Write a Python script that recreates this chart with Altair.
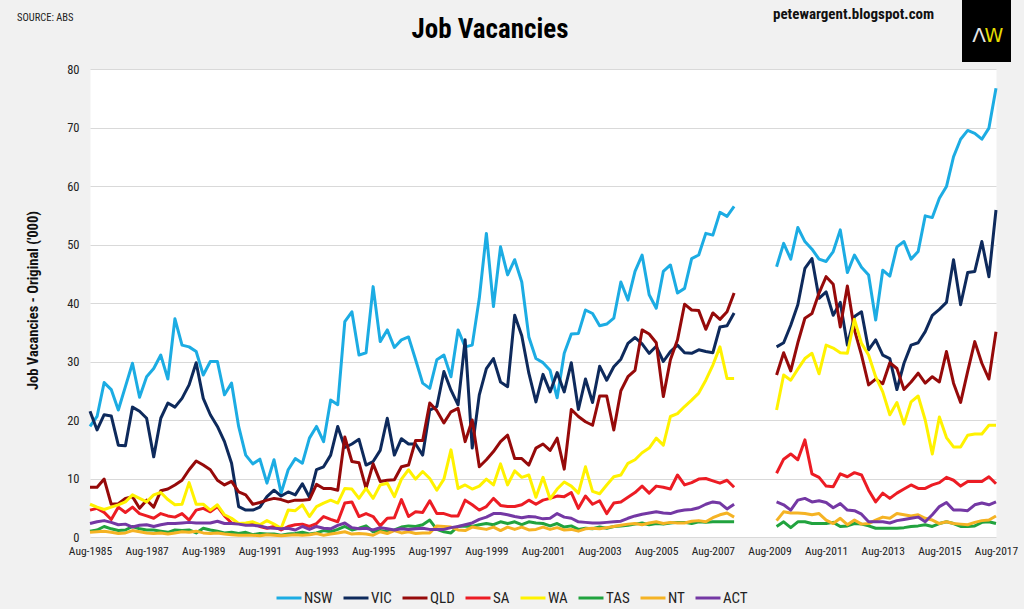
import altair as alt
import pandas as pd

# ---------------- data (ABS job vacancies, '000, quarterly Aug-1985 .. Aug-2017) ----------------
STATES = ["NSW", "VIC", "QLD", "SA", "WA", "TAS", "NT", "ACT"]
COLORS = ["#1CACE3", "#0E2A5C", "#960A0A", "#EC1C24", "#FFF200", "#21A33E", "#F5B324", "#7438A4"]
START_YEAR = 1985
TICK_QUARTERS = list(range(0, 129, 8))
GAP = [None] * 5  # survey suspended Aug-2008 .. Aug-2009

NSW = [18.9, 20.6, 26.4, 25.2, 21.7, 25.7, 29.7, 23.9, 27.4, 28.8,
       31.1, 27.0, 37.3, 32.8, 32.5, 31.7, 27.7, 30.0, 30.0, 24.3,
       26.3, 18.9, 14.0, 12.5, 13.3, 9.2, 13.2, 7.5, 11.5, 13.4,
       12.6, 16.9, 18.9, 16.3, 23.4, 22.6, 36.8, 38.5, 31.1, 31.5,
       42.8, 33.4, 35.4, 32.4, 33.7, 34.2, 30.3, 26.3, 25.4, 30.3,
       31.1, 27.4, 35.4, 32.5, 32.8, 40.8, 51.9, 39.4, 49.6, 44.8,
       47.4, 43.6, 34.2, 30.5, 29.8, 28.5, 23.8, 31.4, 34.7, 34.8,
       38.8, 38.2, 36.1, 36.4, 37.4, 43.6, 40.5, 45.4, 48.2, 41.4,
       39.1, 45.4, 46.5, 41.7, 42.5, 47.6, 48.2, 51.9, 51.6, 55.5,
       54.8, 56.5] + GAP + [
       46.2, 50.2, 47.5, 52.9, 50.5, 49.2, 47.5, 47.1, 48.8, 52.5,
       45.2, 48.2, 46.1, 44.8, 37.1, 45.6, 44.6, 49.6, 50.5, 47.5,
       48.8, 54.9, 54.6, 57.9, 59.9, 65.0, 68.0, 69.5, 69.0, 68.0,
       69.9, 76.7]

VIC = [21.5, 18.3, 20.9, 20.7, 15.7, 15.6, 22.2, 21.5, 20.3, 13.7,
       20.3, 22.9, 22.2, 23.7, 26.0, 29.8, 23.7, 20.9, 18.9, 16.3,
       12.6, 5.2, 4.6, 4.6, 5.1, 6.9, 8.0, 7.0, 7.7, 7.2,
       9.1, 6.8, 11.5, 12.0, 14.0, 18.9, 15.3, 15.9, 16.7, 12.3,
       12.9, 14.8, 20.3, 14.0, 16.8, 15.9, 15.9, 14.0, 21.7, 22.3,
       28.3, 25.1, 22.6, 33.7, 15.2, 24.3, 28.8, 30.5, 26.5, 25.7,
       37.9, 34.4, 28.0, 23.1, 27.8, 24.8, 28.1, 24.8, 29.8, 21.8,
       27.0, 23.0, 29.2, 26.8, 29.1, 30.4, 33.1, 34.1, 33.0, 31.4,
       32.6, 30.0, 31.7, 32.8, 31.5, 31.4, 32.0, 31.7, 31.5, 35.9,
       36.1, 38.3] + GAP + [
       32.5, 33.2, 36.2, 39.7, 45.9, 47.6, 40.8, 41.9, 37.9, 40.1,
       32.8, 37.7, 38.5, 32.0, 33.7, 31.1, 30.5, 25.2, 29.7, 32.8,
       33.2, 35.1, 37.9, 38.9, 40.1, 47.4, 39.7, 45.2, 45.4, 50.5,
       44.5, 55.9]

QLD = [8.5, 8.5, 9.9, 5.6, 5.7, 6.6, 6.9, 4.9, 6.3, 5.1,
       7.9, 8.2, 8.9, 9.7, 11.5, 13.0, 12.3, 11.5, 9.7, 8.9,
       9.5, 7.7, 7.2, 5.6, 5.9, 6.3, 6.6, 6.4, 6.0, 6.3,
       6.3, 6.4, 9.0, 8.3, 8.3, 8.0, 17.1, 12.9, 12.7, 8.3,
       12.5, 9.5, 9.7, 9.8, 12.0, 12.3, 16.5, 16.5, 22.9, 21.6,
       19.5, 21.4, 22.0, 16.3, 20.0, 12.0, 13.2, 14.6, 16.3, 17.4,
       13.4, 13.4, 12.3, 15.2, 15.9, 14.8, 16.9, 11.6, 21.8, 20.6,
       19.7, 19.1, 24.1, 24.1, 18.3, 25.0, 27.4, 28.5, 35.4, 34.7,
       33.2, 24.0, 30.3, 33.7, 39.8, 38.8, 38.7, 35.5, 38.3, 37.2,
       38.5, 41.7] + GAP + [
       27.7, 31.5, 28.4, 33.2, 37.4, 38.2, 41.7, 44.5, 43.2, 35.9,
       42.9, 35.4, 31.1, 26.0, 27.0, 26.2, 29.8, 28.8, 25.2, 26.5,
       28.0, 26.3, 27.4, 26.5, 31.7, 26.3, 23.0, 28.3, 33.4, 29.7,
       27.0, 35.1]

SA = [4.6, 4.9, 4.2, 3.0, 5.1, 4.2, 5.1, 4.0, 3.6, 3.2,
      4.0, 3.6, 3.4, 4.0, 2.9, 4.6, 4.9, 4.3, 5.2, 3.6,
      2.4, 2.3, 2.2, 2.3, 1.8, 1.5, 1.8, 1.2, 1.8, 2.1,
      2.2, 1.8, 2.3, 3.5, 3.0, 2.6, 5.8, 6.0, 3.5, 4.0,
      3.5, 1.9, 3.2, 3.3, 6.4, 3.5, 4.3, 4.2, 6.2, 4.0,
      4.0, 3.6, 3.6, 6.3, 5.5, 4.6, 5.2, 6.6, 5.4, 5.2,
      5.2, 5.5, 6.3, 5.6, 6.3, 6.6, 7.0, 6.9, 7.6, 4.9,
      7.0, 5.6, 6.2, 4.0, 5.8, 6.0, 6.8, 7.6, 8.7, 7.5,
      8.7, 8.5, 8.2, 10.6, 8.9, 9.3, 9.9, 10.0, 9.6, 9.2,
      9.7, 8.5] + GAP + [
      10.9, 13.3, 14.2, 13.2, 16.6, 10.8, 10.2, 8.7, 8.6, 10.8,
      10.3, 11.0, 10.6, 8.0, 6.0, 7.5, 6.6, 7.5, 8.2, 8.9,
      8.3, 8.3, 8.9, 9.3, 10.2, 9.7, 8.7, 9.5, 9.5, 9.5,
      10.3, 9.1]

WA = [5.6, 5.1, 4.7, 5.1, 5.5, 6.0, 7.2, 6.6, 6.0, 7.2,
      7.6, 6.4, 5.5, 5.6, 9.3, 5.6, 5.6, 4.6, 5.5, 3.8,
      3.2, 2.3, 2.4, 2.6, 2.1, 2.8, 2.2, 1.5, 4.6, 4.5,
      5.5, 3.5, 5.2, 5.8, 6.3, 5.8, 8.3, 8.2, 6.6, 8.3,
      6.6, 8.9, 9.2, 6.9, 9.9, 11.5, 9.9, 11.2, 10.0, 8.0,
      9.9, 14.9, 8.3, 8.9, 8.2, 8.7, 9.9, 8.9, 12.5, 8.9,
      11.3, 10.2, 10.6, 6.8, 10.2, 6.5, 8.2, 9.4, 8.7, 7.5,
      12.0, 7.8, 7.4, 8.9, 10.3, 10.6, 12.6, 13.2, 14.4, 15.2,
      16.9, 15.7, 20.6, 21.1, 22.3, 23.4, 24.6, 26.8, 29.4, 32.5,
      27.1, 27.1] + GAP + [
      21.7, 27.7, 26.8, 28.7, 30.5, 31.4, 27.9, 32.8, 32.3, 31.5,
      31.4, 37.2, 33.1, 31.1, 27.4, 24.8, 20.9, 23.0, 19.3, 23.1,
      24.1, 20.0, 14.2, 20.5, 17.0, 15.4, 15.4, 17.4, 17.6, 17.6,
      19.1, 19.1]

TAS = [1.0, 1.2, 1.8, 1.4, 1.1, 1.2, 1.8, 1.4, 1.2, 1.2,
       1.0, 0.8, 1.2, 1.1, 1.2, 0.7, 1.5, 1.2, 1.0, 0.7,
       0.8, 0.6, 0.8, 0.4, 0.6, 0.5, 0.5, 0.3, 0.5, 0.6,
       0.8, 0.5, 0.7, 1.1, 0.9, 1.3, 1.8, 1.2, 1.5, 1.9,
       0.9, 1.1, 0.9, 1.2, 1.7, 1.9, 1.8, 2.1, 2.9, 1.3,
       0.9, 0.7, 1.8, 1.9, 1.8, 2.1, 2.3, 2.1, 2.6, 2.3,
       2.6, 2.1, 2.6, 2.4, 2.3, 1.9, 2.3, 1.7, 1.9, 1.3,
       1.5, 1.4, 1.7, 1.5, 1.8, 1.9, 2.0, 2.2, 2.4, 2.1,
       2.3, 2.2, 2.4, 2.5, 2.5, 2.3, 2.6, 2.5, 2.6, 2.6,
       2.6, 2.6] + GAP + [
       1.8, 2.6, 1.6, 2.6, 2.6, 2.3, 2.3, 2.3, 2.5, 1.8,
       1.9, 2.3, 2.2, 1.9, 1.5, 1.5, 1.5, 1.5, 1.6, 1.8,
       1.9, 2.1, 1.8, 2.3, 2.6, 2.3, 1.8, 1.8, 1.9, 2.5,
       2.6, 2.3]

NT = [0.8, 0.9, 1.0, 0.8, 0.6, 0.7, 1.1, 0.9, 0.7, 0.6,
      0.7, 0.5, 0.7, 0.9, 0.8, 1.0, 0.7, 0.6, 0.7, 0.5,
      0.4, 0.3, 0.3, 0.3, 0.2, 0.4, 0.3, 0.2, 0.3, 0.4,
      0.3, 0.4, 0.6, 0.3, 0.5, 0.7, 0.9, 0.5, 0.6, 0.5,
      0.3, 0.9, 0.6, 1.1, 0.7, 0.9, 0.6, 0.7, 0.7, 1.9,
      1.8, 1.7, 1.2, 1.1, 1.7, 1.5, 1.3, 1.7, 1.1, 1.7,
      1.3, 1.7, 1.2, 1.3, 1.7, 1.3, 1.6, 1.2, 1.3, 1.0,
      1.4, 1.5, 1.4, 1.6, 1.8, 2.0, 2.2, 2.3, 2.1, 2.4,
      2.6, 2.3, 2.5, 2.4, 2.4, 2.7, 2.8, 2.6, 3.3, 3.8,
      4.1, 3.4] + GAP + [
      2.8, 4.3, 4.1, 4.1, 4.0, 3.8, 4.0, 2.9, 2.3, 3.2,
      2.1, 2.9, 2.2, 2.3, 2.9, 3.4, 3.2, 4.0, 3.8, 3.6,
      3.8, 3.2, 2.9, 2.3, 2.6, 2.3, 2.2, 2.1, 2.5, 2.8,
      2.9, 3.6]

ACT = [2.3, 2.6, 2.8, 2.5, 2.1, 2.2, 1.7, 2.0, 2.1, 1.8,
       2.1, 2.3, 2.3, 2.4, 2.5, 2.4, 2.4, 2.4, 2.7, 2.3,
       2.3, 2.2, 2.0, 2.0, 1.9, 1.6, 1.5, 1.4, 1.5, 1.2,
       1.8, 1.3, 1.8, 1.5, 1.4, 2.0, 2.4, 1.6, 1.4, 1.5,
       1.2, 1.6, 1.4, 1.2, 1.4, 1.3, 1.4, 1.5, 1.3, 1.3,
       1.3, 1.6, 1.8, 2.1, 2.4, 3.0, 3.4, 4.0, 4.0, 3.8,
       3.5, 3.3, 3.5, 3.4, 3.1, 3.2, 4.0, 3.4, 3.2, 2.6,
       2.5, 2.4, 2.4, 2.5, 2.6, 2.7, 3.2, 3.6, 3.9, 4.1,
       4.3, 4.1, 4.0, 4.4, 4.6, 4.7, 5.0, 5.6, 6.0, 5.8,
       4.8, 5.6] + GAP + [
       6.0, 5.5, 4.6, 6.3, 6.6, 6.0, 6.2, 5.9, 5.0, 5.7,
       4.6, 4.5, 3.9, 2.6, 2.6, 2.6, 2.4, 2.8, 3.0, 3.2,
       3.4, 2.6, 3.8, 5.2, 5.9, 4.6, 4.6, 4.5, 5.5, 5.8,
       5.5, 6.0]

SERIES = [NSW, VIC, QLD, SA, WA, TAS, NT, ACT]

rows = []
for st, vals in zip(STATES, SERIES):
    for q, v in enumerate(vals):
        if v is None:
            continue
        rows.append({"state": st, "q": q, "v": v, "seg": 0 if q < 92 else 1})
df = pd.DataFrame(rows)

FONT = "Liberation Sans Narrow, Arial Narrow, Roboto Condensed, DejaVu Sans Condensed, sans-serif"
TXT = "#222222"

lines = alt.Chart(df).mark_line(strokeWidth=3, strokeJoin="round").encode(
    x=alt.X("q:Q",
            scale=alt.Scale(domain=[0, 128], nice=False, zero=False),
            axis=alt.Axis(values=TICK_QUARTERS,
                          labelExpr="'Aug-' + (%d + datum.value / 4)" % START_YEAR,
                          grid=False, ticks=False, domain=False, labelFlush=False,
                          labelOverlap=False, labelAlign="center",
                          labelFont=FONT, labelFontSize=11.5, labelColor=TXT,
                          labelPadding=8, labelBaseline="top", title=None)),
    y=alt.Y("v:Q",
            scale=alt.Scale(domain=[0, 80], nice=False),
            axis=alt.Axis(values=list(range(0, 81, 10)), grid=True, gridColor="#D9D9D9",
                          gridWidth=1, ticks=False, domain=False,
                          labelFont=FONT, labelFontSize=12.5, labelColor=TXT, labelPadding=11,
                          title="Job Vacancies - Original ('000)",
                          titleFont=FONT, titleFontSize=14.5, titleFontWeight="bold",
                          titleColor="#111111", titleAngle=270, titleAlign="center",
                          titleBaseline="middle", titleX=-57, titleY=231)),
    color=alt.Color("state:N",
                    scale=alt.Scale(domain=STATES, range=COLORS),
                    legend=alt.Legend(orient="none", direction="horizontal",
                                      legendX=185, legendY=515, title=None,
                                      symbolType="stroke", symbolStrokeWidth=3,
                                      symbolSize=625, labelOffset=1, columnPadding=4,
                                      labelFont=FONT, labelFontSize=15, labelColor=TXT)),
    detail="seg:N",
)

one = pd.DataFrame({"k": [0]})

title_txt = alt.Chart(one).mark_text(text="Job Vacancies", align="center", baseline="middle",
                                     font=FONT, fontSize=27, fontWeight="bold",
                                     color="#000000").encode(
    x=alt.value(400), y=alt.value(-39))
source_txt = alt.Chart(one).mark_text(text="SOURCE: ABS", align="left", baseline="middle",
                                      font=FONT, fontSize=10.5, color=TXT).encode(
    x=alt.value(-73), y=alt.value(-51))
blog_txt = alt.Chart(one).mark_text(text="petewargent.blogspot.com", align="left",
                                    baseline="middle", font=FONT, fontSize=15,
                                    fontWeight="bold", color="#111111").encode(
    x=alt.value(683), y=alt.value(-55))
logo_box = alt.Chart(one).mark_rect(color="#000000").encode(
    x=alt.value(872), x2=alt.value(921), y=alt.value(-69), y2=alt.value(-7))
logo_a = alt.Chart(one).mark_text(text="\u039b", align="center", baseline="middle",
                                  font="DejaVu Sans", fontSize=20, fontWeight="normal",
                                  color="#E6E6E6").encode(x=alt.value(889), y=alt.value(-33))
logo_w = alt.Chart(one).mark_text(text="W", align="center", baseline="middle",
                                  font="DejaVu Sans", fontSize=19, fontWeight="normal",
                                  color="#E5DC00").encode(x=alt.value(904), y=alt.value(-33))

chart = alt.layer(lines, title_txt, source_txt, blog_txt, logo_box, logo_a, logo_w).properties(
    width=906, height=468,
    autosize=alt.AutoSizeParams(type="none"),
    padding={"left": 90, "top": 69, "right": 28, "bottom": 72},
    background="#F1F1F1",
).configure_view(fill="white", stroke="transparent")

chart.save("out.html", embed_options={"renderer": "svg", "actions": False})
